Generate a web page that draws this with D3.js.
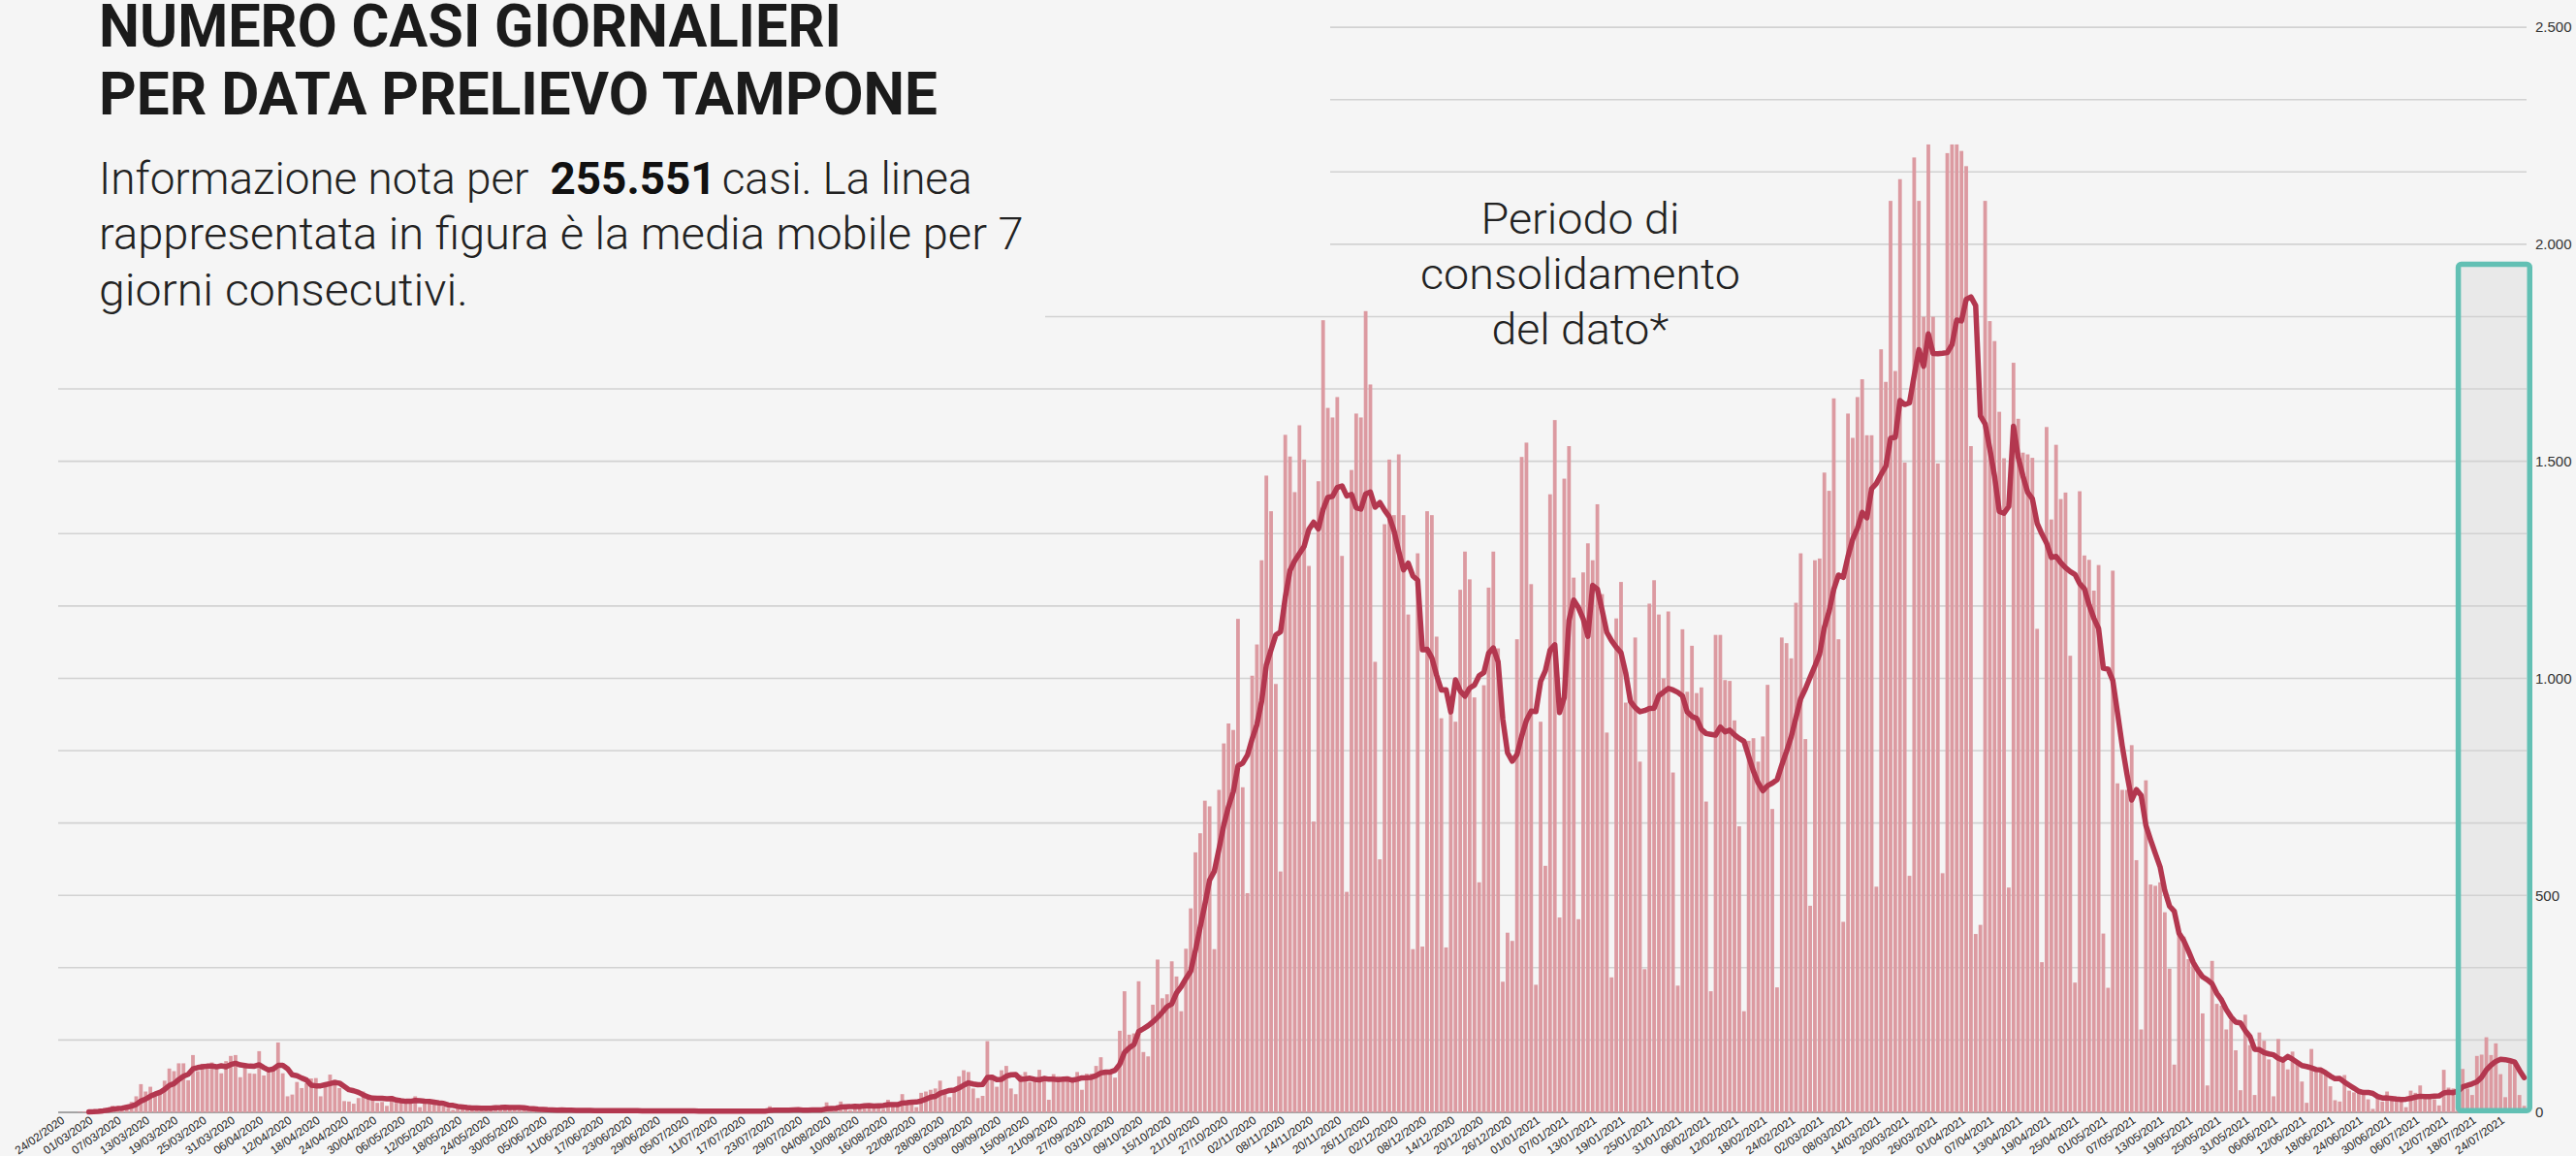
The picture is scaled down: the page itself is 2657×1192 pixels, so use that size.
<!DOCTYPE html>
<html>
<head>
<meta charset="utf-8">
<script src="https://cdn.jsdelivr.net/npm/d3@7"></script>
<style>
  html, body { margin: 0; padding: 0; background: #f5f5f5; overflow: hidden; }
</style>
</head>
<body>
<div id="chart"></div>
<script>
// daily cases by swab date, first day 24/02/2020
var startDate = new Date(2020, 1, 24);

var feb2020 = [0,0,0,0,1,2];
var mar2020 = [3, 4,6,9,11,15,13,10, 18,24,37,65,48,59,44, 44,73,101,95,113,113,74,
               132,95,112,106,115,100,90, 118,130];
var apr2020 = [132,81,104,90,89, 141,85,93,98,161,90,37, 41,70,56,67,78,79,37,
               59,87,75,56,26,25,20, 33,48,41,37];
var may2020 = [22,24,15, 37,22,30,28,22,37,12, 28,20,18,16,14,10,6, 12,10,9,10,12,8,5,
               14,16,12,15,10,8,5];
var jun2020 = [9,3,8,7,6,4,3, 6,5,5,6,4,3,2, 5,4,5,4,4,3,2, 4,5,4,4,3,2,2, 4,4];
var jul2020 = [5,3,4,2,1, 3,4,3,4,3,2,1, 3,2,4,3,3,2,2, 4,3,4,14,5,3,2, 6,7,5,8,6];
var aug2020 = [4,3, 8,23,10,12,25,9,5, 15,18,20,16,19,14,8, 29,18,20,42,24,22,12,
               45,48,52,55,73,45,35, 50];
var sep2020 = [83,97,93,55,33,38, 164,86,59,97,107,55,42, 86,93,70,80,98,78,29,
               88,83,80,83,78,93,52, 89,89,107];
var oct2020 = [127,93,93,80, 188,279,179,182,302,139,129, 248,352,263,272,348,313,233,
               377,470,599,643,718,705,376, 743,850,896,881,1137,749];
var nov2020 = [505, 1006,1078,1272,1467,1385,987,555, 1561,1511,1429,1583,1504,1259,670,
               1454,1825,1623,1601,1648,1282,508, 1480,1610,1601,1846,1677,1038,583, 1355];
var dec2020 = [1504,1376,1516,1376,1147,376, 1288,382,1385,1376,1096,908,380,
               931,900,1204,1292,1228,956,530, 984,1209,1292,1069,301,414,395,
               1090,1510,1543,1217];
var jan2021 = [294,900,568, 1424,1595,449,1460,1535,1232,445, 1244,1311,1272,1401,1194,875,311,
               1138,1222,944,944,1094,808,330, 1172,1226,1147,1000,1154,783,292];
var feb2021 = [1113,969,1075,966,979,716,279, 1100,1100,996,994,903,659,233,
               856,862,808,866,985,699,288, 1094,1081,1046,1174,1288,860,476];
var mar2021 = [1272,1276,1474,1432,1645,1090,439, 1610,1554,1648,1689,1560,1560,520,
               1758,1683,2100,1708,2150,1497,545, 2200,2100,1833,2230,1833,1495,551,
               2210,2230,2230];
var apr2021 = [2215,2180,1535,411, 432,2100,1823,1777,1614,1507,518, 1727,1598,1520,1516,1508,1114,346,
               1579,1366,1538,1413,1428,1052,299, 1431,1283,1273,1202,1261];
var may2021 = [412,287, 1248,758,743,743,846,581,191, 765,525,522,530,461,331,110,
               412,405,353,346,331,228,62, 349,250,246,191,213,143,51, 225];
var jun2021 = [155,40,184,165,122,37, 169,125,99,140,113,71,22, 146,99,93,95,60,28,25,
               86,50,46,45,40,30,8, 37,25,48];
var jul2021 = [35,31,25,12, 50,45,62,31,31,30,16, 98,57,55,55,100,55,40,
               130,133,173,132,159,88,35, 113,111,40,15];

var yTicks = [0, 500, 1000, 1500, 2000, 2500];
var labelEvery = 6;
var consolidationStart = "15/07/2021";
var consolidationTop = 1960;

var titleLines = ["NUMERO CASI GIORNALIERI", "PER DATA PRELIEVO TAMPONE"];
var totalCases = "255.551";
var noteLines = ["Periodo di", "consolidamento", "del dato*"];

var cases = [].concat(feb2020, mar2020, apr2020, may2020, jun2020, jul2020, aug2020, sep2020,
                      oct2020, nov2020, dec2020, jan2021, feb2021, mar2021, apr2021,
                      may2021, jun2021, jul2021);
var fmtDay = d3.timeFormat("%d/%m/%Y");
var days = d3.timeDay.range(startDate, d3.timeDay.offset(startDate, cases.length)).map(fmtDay);

// 7 day trailing mean
var avg = cases.map(function(v, i) {
    return i < 6 ? null : d3.mean(cases.slice(i - 6, i + 1));
});

var W = 2657, H = 1192;
var plot = { left: 60, right: 2606, top: 28.1, bottom: 1147 };

var svg = d3.select("#chart")
    .append("svg")
    .attr("width", W)
    .attr("height", H)
    .style("display", "block");

svg.append("rect").attr("width", W).attr("height", H).attr("fill", "#f5f5f5");

var x = d3.scaleBand()
    .domain(days)
    .range([plot.left, plot.right])
    .paddingInner(0.22)
    .paddingOuter(0.11);

var y = d3.scaleLinear()
    .domain([0, 2500])
    .range([plot.bottom, plot.top]);

var it = d3.formatLocale({ decimal: ",", thousands: ".", grouping: [3], currency: ["€", ""] });

// consolidation box, fill first
var boxStroke = 5.5;
var boxX0 = x(consolidationStart) - x.step() * 0.11 + boxStroke / 2;
var boxX1 = plot.right + 6 - boxStroke / 2;
var boxY0 = y(consolidationTop) + boxStroke / 2;
var boxY1 = plot.bottom + 1 - boxStroke / 2;
svg.append("rect")
    .attr("x", boxX0).attr("y", boxY0)
    .attr("width", boxX1 - boxX0).attr("height", boxY1 - boxY0)
    .attr("fill", "#e9e9e9");

// gridlines, three per labelled step
var gridVals = d3.range(1, 16).map(function(i) { return i * 500 / 3; });
svg.append("g")
    .selectAll("line")
    .data(gridVals)
    .enter()
    .append("line")
    .attr("x1", plot.left).attr("x2", plot.right)
    .attr("y1", function(d) { return y(d); })
    .attr("y2", function(d) { return y(d); })
    .attr("stroke", "#d2d2d2")
    .attr("stroke-width", 1.6);

// background panels behind the headline
svg.append("rect").attr("x", 0).attr("y", 0).attr("width", 1372).attr("height", 290).attr("fill", "#f5f5f5");
svg.append("rect").attr("x", 0).attr("y", 290).attr("width", 1078).attr("height", 90).attr("fill", "#f5f5f5");

svg.append("line")
    .attr("x1", plot.left).attr("x2", plot.right)
    .attr("y1", y(0)).attr("y2", y(0))
    .attr("stroke", "#a4a4a4")
    .attr("stroke-width", 2);

// bars
svg.append("g")
    .selectAll("rect")
    .data(cases)
    .enter()
    .append("rect")
    .attr("x", function(d, i) { return x(days[i]); })
    .attr("y", function(d) { return y(d); })
    .attr("width", x.bandwidth())
    .attr("height", function(d) { return y(0) - y(d); })
    .attr("fill", "#dc9aa1");

// moving average
var line = d3.line()
    .defined(function(d) { return d != null; })
    .x(function(d, i) { return x(days[i]) + x.bandwidth() / 2; })
    .y(function(d) { return y(d); });

svg.append("path")
    .datum(avg)
    .attr("d", line)
    .attr("fill", "none")
    .attr("stroke", "#b3374f")
    .attr("stroke-width", 5.5)
    .attr("stroke-linejoin", "round")
    .attr("stroke-linecap", "round");

svg.append("rect")
    .attr("x", boxX0).attr("y", boxY0)
    .attr("width", boxX1 - boxX0).attr("height", boxY1 - boxY0)
    .attr("rx", 3)
    .attr("fill", "none")
    .attr("stroke", "#62c0b4")
    .attr("stroke-width", boxStroke);

// right axis
var yAxis = svg.append("g")
    .attr("transform", "translate(" + plot.right + ",0)")
    .call(d3.axisRight(y).tickValues(yTicks).tickSize(0).tickPadding(9)
        .tickFormat(it.format(",d")));
yAxis.select(".domain").remove();
yAxis.selectAll("text")
    .attr("font-family", "'Liberation Sans', Arial, sans-serif")
    .attr("font-size", "15px")
    .attr("fill", "#333");

// date labels
var xAxis = svg.append("g")
    .attr("transform", "translate(0," + 1157 + ")")
    .call(d3.axisBottom(x)
        .tickValues(days.filter(function(d, i) { return i % labelEvery === 0; }))
        .tickSize(0));
xAxis.select(".domain").remove();
xAxis.selectAll("text")
    .attr("x", 0).attr("y", 0).attr("dy", 0)
    .attr("transform", "translate(5,0) rotate(-35)")
    .style("text-anchor", "end")
    .attr("font-family", "'Liberation Sans', Arial, sans-serif")
    .attr("font-size", "11.8px")
    .attr("fill", "#222");

// squeeze a text line to the width it has in the original
function fitted(px, py, w, build) {
    var g = svg.append("g");
    var t = g.append("text");
    build(t);
    var bw = t.node().getBBox().width;
    g.attr("transform", "translate(" + px + "," + py + ") scale(" + (w / bw) + ",1)");
    return t;
}

var titleW = [766, 865];
titleLines.forEach(function(s, i) {
    fitted(102, [48, 118][i], titleW[i], function(t) {
        t.text(s)
            .attr("font-family", "Roboto, 'DejaVu Sans', sans-serif")
            .attr("font-weight", 700)
            .attr("font-size", "62px")
            .attr("fill", "#1b1b1b");
    });
});

var subFont = "Roboto, 'DejaVu Sans', sans-serif";
fitted(102, 200, 901, function(t) {
    t.attr("font-family", subFont).attr("font-size", "46px").attr("fill", "#222").attr("font-weight", 300);
    t.append("tspan").text("Informazione nota per");
    t.append("tspan").attr("dx", 22).attr("font-weight", 700).attr("fill", "#111").text(totalCases);
    t.append("tspan").attr("dx", 6).text("casi. La linea");
});
fitted(102, 257, 954, function(t) {
    t.attr("font-family", subFont).attr("font-size", "46px").attr("fill", "#222").attr("font-weight", 300)
        .text("rappresentata in figura è la media mobile per 7");
});
fitted(102, 315, 381, function(t) {
    t.attr("font-family", subFont).attr("font-size", "46px").attr("fill", "#222").attr("font-weight", 300)
        .text("giorni consecutivi.");
});

var noteW = [205, 330, 183];
noteLines.forEach(function(s, i) {
    var w = noteW[i];
    fitted(1630 - w / 2, [241, 298, 355][i], w, function(t) {
        t.text(s)
            .attr("font-family", subFont)
            .attr("font-weight", 300)
            .attr("font-size", "44px")
            .attr("fill", "#222");
    });
});
</script>
</body>
</html>
